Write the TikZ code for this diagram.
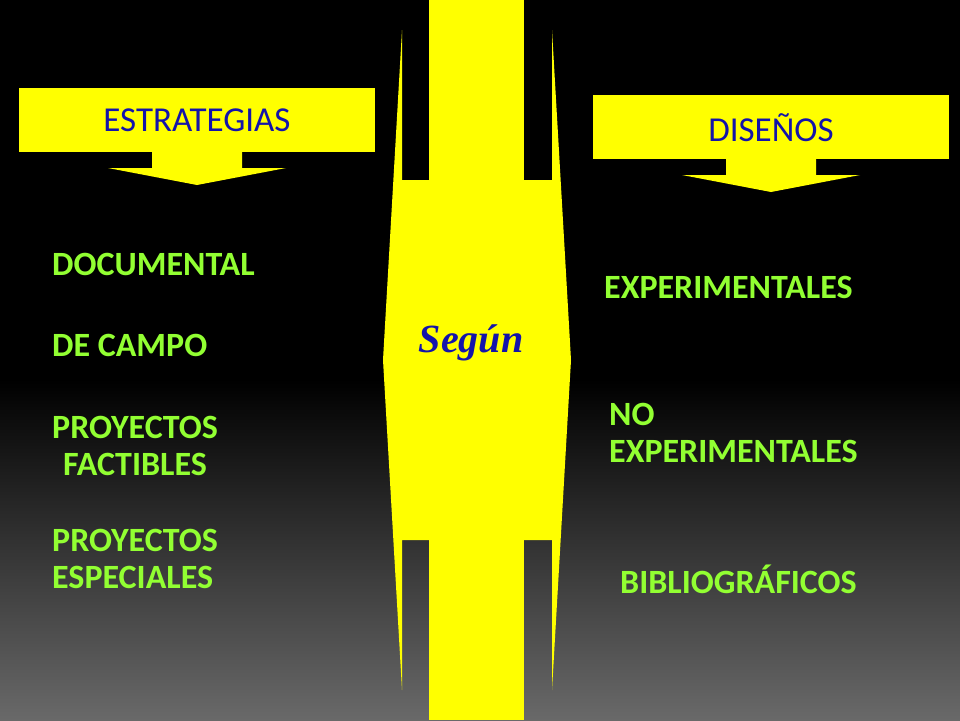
\documentclass[tikz,border=0pt]{standalone}
\usepackage{fontspec}
\setmainfont{Carlito}
\newfontfamily\segfont{Liberation Serif}
\definecolor{ylw}{RGB}{255,255,0}
\definecolor{grn}{RGB}{146,255,50}
\definecolor{blu}{RGB}{20,20,170}
\definecolor{gtop}{RGB}{0,0,0}
\definecolor{gbot}{RGB}{105,105,105}
\begin{document}
\begin{tikzpicture}[x=1pt,y=-1pt,
  lbl/.style={text=grn,font=\fontsize{34}{37}\selectfont\bfseries,anchor=west,align=left,inner sep=0pt},
  head/.style={text=blu,font=\fontsize{35}{38}\selectfont}]
\useasboundingbox (0,0) rectangle (960,720);
\fill[gtop] (0,0) rectangle (960,380);
\shade[top color=gtop,bottom color=gbot] (0,379) rectangle (960,720);
% central shape
\fill[ylw] (402,30)--(402,180)--(552,180)--(552,30)--(571,360)--(552,690)--(552,540)--(402,540)--(402,690)--(383,360)--cycle;
\fill[ylw] (429,0) rectangle (524,720);
\node[text=blu,font=\segfont\fontsize{40}{42}\selectfont\bfseries\itshape] (seg) at (471,343) {Según};
% left box
\fill[ylw] (19,88) rectangle (375,152);
\fill[ylw] (152,150) rectangle (242,168) (108,168)--(286,168)--(197,185)--cycle;
\node[head] (est) at (197,120) {ESTRATEGIAS};
% right box
\fill[ylw] (593,95) rectangle (949,159);
\fill[ylw] (726,157) rectangle (816,175) (682,175)--(860,175)--(771,192)--cycle;
\node[head] (dis) at (771,128) {DISEÑOS};
% texts
\node[lbl] (a) at (52,264) {DOCUMENTAL};
\node[lbl] (b) at (52,345) {DE CAMPO};
\node[lbl,align=center] (c) at (52,446) {PROYECTOS\\FACTIBLES};
\node[lbl] (d) at (52,559) {PROYECTOS\\ESPECIALES};
\node[lbl] (e) at (604,287) {EXPERIMENTALES};
\node[lbl] (f) at (609,433) {NO\\EXPERIMENTALES};
\node[lbl] (g) at (620,579) {BIBLIOGRÁFICOS};
\end{tikzpicture}
\end{document}
